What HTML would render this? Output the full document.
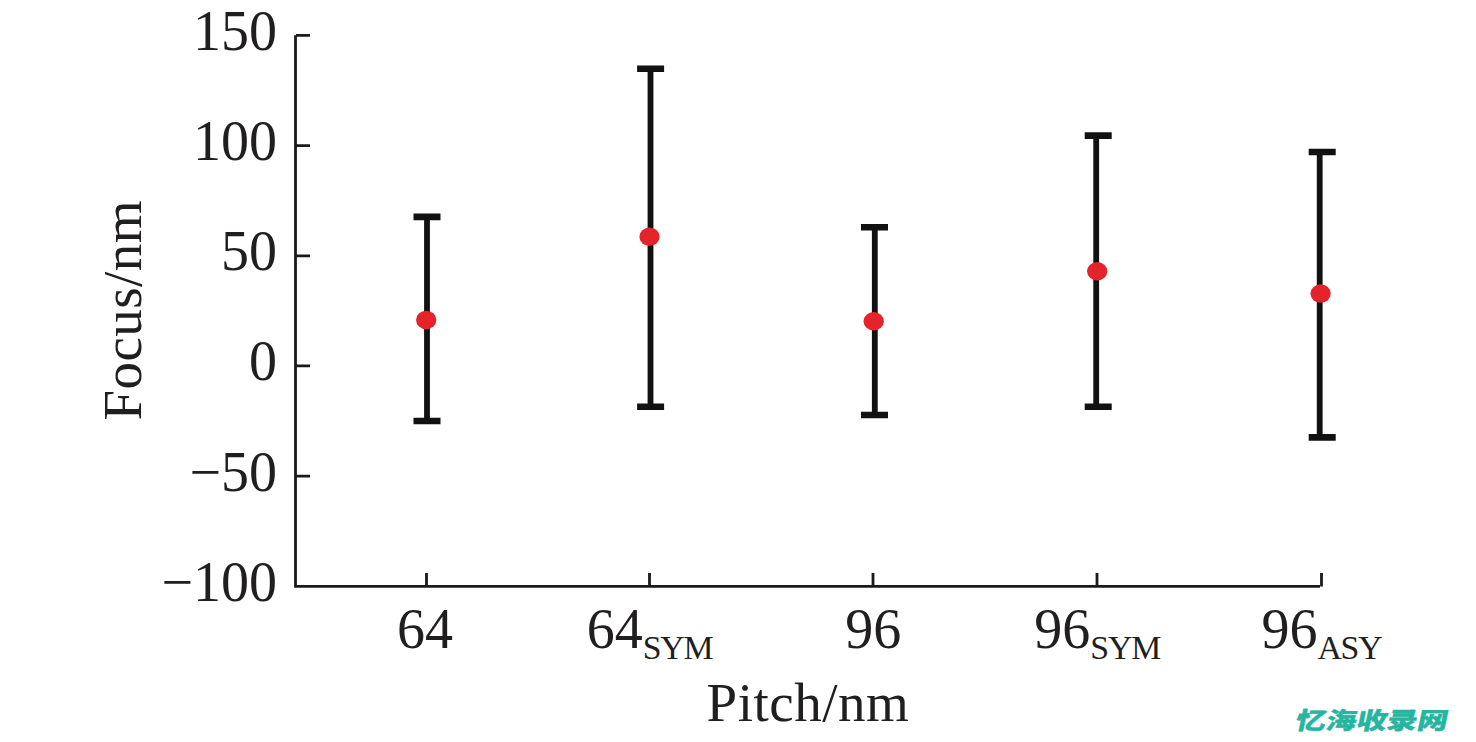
<!DOCTYPE html>
<html><head><meta charset="utf-8"><title>Focus vs Pitch</title>
<style>
html,body{margin:0;padding:0;background:#fff;width:1476px;height:742px;overflow:hidden}
svg{display:block}
.t{font-family:"Liberation Serif","Times New Roman",serif;font-size:56px;fill:#201e1f}
.s{font-size:33.8px;letter-spacing:-1.2px}
.wm{font-family:"Liberation Sans","Noto Sans CJK SC","WenQuanYi Zen Hei",sans-serif;font-weight:900;font-size:23.6px;fill:#25b5a0;stroke:#25b5a0;stroke-width:0.3px;stroke-linejoin:round}
</style></head>
<body>
<svg width="1476" height="742" viewBox="0 0 1476 742">
<path stroke="#1a1a1a" fill="none" stroke-width="2.8" d="M295.5 35.3 V587.7 M294.1 586.3 H1320 M296 35.4 H310 M296 145.6 H310 M296 255.8 H310 M296 365.9 H310 M296 476.1 H310 M426.5 573 V586 M649.5 573 V586 M873.0 573 V586 M1097.0 573 V586 M1321.5 573 V586.6"/>
<path stroke="#111" fill="none" stroke-width="5.8" d="M427.0 216.9 V421.0 M650.5 68.7 V406.7 M874.8 227.2 V415.0 M1096.2 135.6 V406.7 M1319.7 152.0 V437.4"/>
<path stroke="#111" fill="none" stroke-width="6.6" d="M413.5 216.9 H440.5 M413.5 421.0 H440.5 M637.1 68.7 H664.1 M637.1 406.7 H664.1 M861.0 227.2 H888.0 M861.0 415.0 H888.0 M1084.7 135.6 H1111.7 M1084.7 406.7 H1111.7 M1308.7 152.0 H1335.7 M1308.7 437.4 H1335.7"/>
<g fill="#e5232a">
<ellipse cx="426.2" cy="319.9" rx="10.15" ry="9.25"/>
<ellipse cx="649.5" cy="236.8" rx="10.15" ry="9.25"/>
<ellipse cx="873.7" cy="321.3" rx="10.15" ry="9.25"/>
<ellipse cx="1097.2" cy="271.2" rx="10.15" ry="9.25"/>
<ellipse cx="1320.6" cy="293.6" rx="10.15" ry="9.25"/>
</g>
<g class="t" text-anchor="end">
<text x="277.0" y="49.7">150</text>
<text x="277.0" y="159.9">100</text>
<text x="277.0" y="270.2">50</text>
<text x="277.0" y="380.4">0</text>
<text x="277.0" y="490.7">&#8722;50</text>
<text x="277.0" y="601.0">&#8722;100</text>
</g>
<g class="t" text-anchor="middle">
<text x="425.1" y="648.0">64</text>
<text x="649.6" y="648.0">64<tspan class="s" dy="11.0">SYM</tspan></text>
<text x="873.3" y="648.0">96</text>
<text x="1097.2" y="648.0">96<tspan class="s" dy="11.0">SYM</tspan></text>
<text x="1321.4" y="648.0">96<tspan class="s" dy="11.0">ASY</tspan></text>
</g>
<text class="t" style="font-size:55px;letter-spacing:0.5px" x="807.9" y="720.6" text-anchor="middle">Pitch/nm</text>
<text class="t" style="font-size:55px;letter-spacing:0.45px" transform="translate(140.8 310.3) rotate(-90)" text-anchor="middle">Focus/nm</text>
<text class="wm" transform="translate(1294.3 729.0) skewX(-12) scale(1.29 1)">忆海收录网</text>
</svg>
</body></html>
